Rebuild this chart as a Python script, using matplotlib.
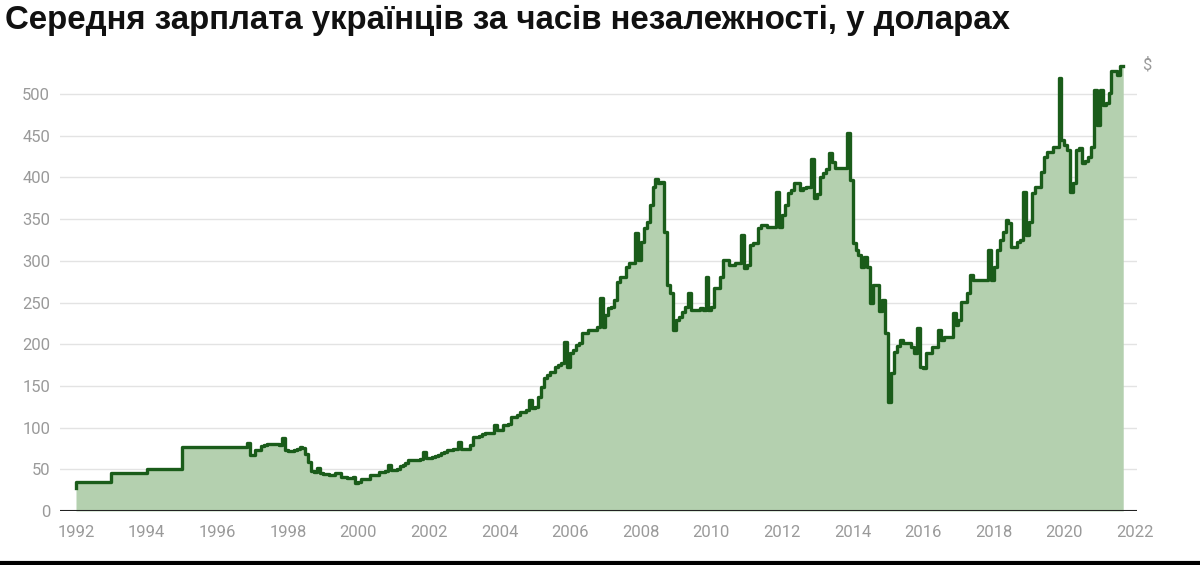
import numpy as np
import matplotlib.pyplot as plt
from matplotlib.lines import Line2D

# monthly average wage in USD, Jan 1992 .. Sep 2021
salary_1990s = [
    28, 35, 35, 35, 35, 35, 35, 35, 35, 35, 35, 35,      # 1992
    35, 45, 45, 45, 45, 45, 45, 45, 45, 45, 45, 45,      # 1993
    45, 50, 50, 50, 50, 50, 50, 50, 50, 50, 50, 50,      # 1994
    50, 77, 77, 77, 77, 77, 77, 77, 77, 77, 77, 77,      # 1995
    77, 77, 77, 77, 77, 77, 77, 77, 77, 77, 77, 81,      # 1996
    67, 67, 73, 73, 78, 79, 80, 80, 80, 80, 79, 88,      # 1997
    73, 72, 72, 73, 74, 77, 75, 68, 59, 48, 47, 51,      # 1998
    45, 44, 44, 43, 43, 46, 46, 41, 41, 40, 40, 41,      # 1999
]
salary_2000s = [
    34, 35, 38, 38, 38, 43, 43, 43, 47, 47, 48, 55,              # 2000
    49, 49, 50, 54, 55, 58, 61, 61, 61, 61, 62, 71,              # 2001
    63, 63, 65, 66, 67, 70, 71, 73, 73, 74, 74, 83,              # 2002
    74, 74, 74, 79, 89, 89, 90, 92, 93, 93, 94, 103,             # 2003
    97, 97, 103, 103, 104, 113, 113, 115, 119, 119, 121, 133,    # 2004
    123, 125, 137, 149, 160, 163, 167, 167, 173, 175, 177, 203,  # 2005
    173, 189, 193, 199, 201, 213, 214, 217, 217, 217, 221, 255,  # 2006
    221, 235, 243, 245, 253, 275, 281, 281, 293, 297, 297, 333,  # 2007
    301, 322, 339, 347, 367, 389, 398, 393, 395, 335, 271, 261,  # 2008
    217, 229, 233, 239, 245, 261, 241, 241, 241, 243, 241, 281,  # 2009
]
salary_2010s = [
    241, 245, 267, 267, 281, 301, 301, 295, 295, 297, 297, 331,  # 2010
    291, 295, 319, 321, 321, 339, 343, 343, 341, 341, 341, 383,  # 2011
    341, 355, 367, 381, 385, 393, 393, 385, 387, 389, 389, 422,  # 2012
    375, 380, 400, 405, 410, 429, 419, 411, 411, 411, 411, 453,  # 2013
    397, 321, 313, 307, 293, 305, 293, 249, 271, 271, 240, 253,  # 2014
    213, 131, 165, 191, 198, 205, 201, 201, 201, 197, 189, 219,  # 2015
    173, 171, 189, 189, 197, 197, 217, 205, 209, 209, 209, 237,  # 2016
    223, 229, 251, 251, 261, 283, 277, 277, 277, 277, 277, 313,  # 2017
    277, 293, 313, 325, 335, 349, 345, 317, 317, 323, 325, 383,  # 2018
    331, 347, 381, 389, 389, 407, 425, 431, 431, 437, 437, 519,  # 2019
]
salary_2020s = [
    445, 439, 433, 383, 393, 433, 435, 417, 420, 424, 437, 505,  # 2020
    463, 505, 487, 489, 501, 527, 527, 523, 533,                 # 2021
]

salary = np.array(salary_1990s + salary_2000s + salary_2010s + salary_2020s)
dates = 1992 + np.arange(len(salary)) / 12.0

y_ticks = [0, 50, 100, 150, 200, 250, 300, 350, 400, 450, 500]
x_ticks = list(range(1992, 2023, 2))

title = "Середня зарплата українців за часів незалежності, у доларах"

LINE = "#1a5c1a"
FILL = "#b4d0af"
GRID = "#e3e3e3"
TICK = "#9a9a9a"

fig = plt.figure(figsize=(12, 5.65), dpi=100)
ax = fig.add_axes([0.05, 0.0956, 0.8975, 0.8118])

ax.fill_between(dates, salary, step="pre", color=FILL, lw=0, zorder=2)
ax.step(dates, salary, where="pre", color=LINE, lw=2.4, zorder=3)

ax.set_xlim(1991.547, 2022.057)
ax.set_ylim(0, 550)
ax.set_yticks(y_ticks)
ax.set_xticks(x_ticks)
ax.set_xticklabels([str(x) for x in x_ticks])
ax.grid(axis="y", color=GRID, lw=1, zorder=1)
ax.axhline(0, color="#222222", lw=1.5, zorder=4)

for s in ax.spines.values():
    s.set_visible(False)
ax.tick_params(axis="both", length=0, colors=TICK, labelsize=12)
ax.tick_params(axis="x", pad=10)
ax.tick_params(axis="y", pad=7)
for lab in ax.get_xticklabels() + ax.get_yticklabels():
    lab.set_fontfamily("Roboto")

ax.text(1.005, 535, "$", transform=ax.get_yaxis_transform(), color=TICK,
        fontsize=12, family="Roboto", ha="left", va="center")

fig.text(0.004, 0.963, title, fontsize=23.8, fontweight="bold",
         family="Liberation Sans", color="#111111", ha="left", va="center")

fig.add_artist(Line2D([0, 1], [0.003, 0.003], transform=fig.transFigure,
                      color="black", lw=3))

fig.savefig("out.png", dpi=100)
